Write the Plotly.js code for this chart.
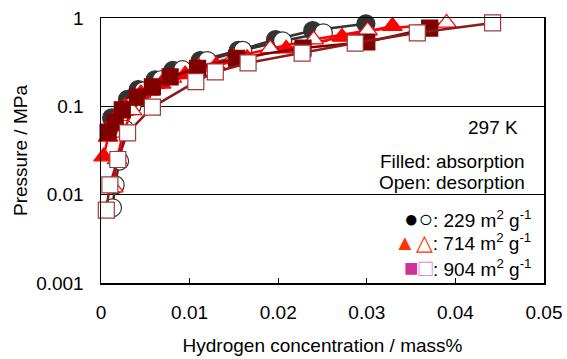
<!DOCTYPE html>
<html><head><meta charset="utf-8">
<script src="https://cdn.plot.ly/plotly-3.0.1.min.js"></script>
<style>html,body{margin:0;padding:0;background:#fff}#chart{width:567px;height:359px}</style>
</head><body><div id="chart"></div>
<script>
// 229 m2/g
const c229AbsX = [0.0012, 0.0030, 0.0042, 0.0061, 0.0081, 0.0112, 0.0155, 0.0197, 0.0239, 0.0299];
const c229AbsP = [0.074, 0.12, 0.155, 0.20, 0.255, 0.33, 0.43, 0.57, 0.72, 0.86];
const c229DesX = [0.0251, 0.0205, 0.0160, 0.0120, 0.0092, 0.0068, 0.0048, 0.0035, 0.0027, 0.0021, 0.0016, 0.0013];
const c229DesP = [0.68, 0.55, 0.43, 0.33, 0.26, 0.20, 0.15, 0.10, 0.055, 0.024, 0.0129, 0.0071];
// 714 m2/g
const c714AbsX = [0.0003, 0.0008, 0.0015, 0.0027, 0.0045, 0.0068, 0.0095, 0.0130, 0.0165, 0.0209, 0.0272, 0.0329];
const c714AbsP = [0.027, 0.045, 0.07, 0.10, 0.14, 0.18, 0.23, 0.29, 0.35, 0.45, 0.61, 0.81];
const c714DesX = [0.0390, 0.0301, 0.0240, 0.0191, 0.0150, 0.0110, 0.0080, 0.0055, 0.0035, 0.0025, 0.0018, 0.0014];
const c714DesP = [0.88, 0.72, 0.57, 0.45, 0.36, 0.28, 0.21, 0.15, 0.09, 0.05, 0.025, 0.012];
// 904 m2/g
const c904AbsX = [0.0008, 0.0016, 0.0024, 0.0041, 0.0058, 0.0078, 0.0109, 0.0153, 0.0228, 0.0300, 0.0371];
const c904AbsP = [0.051, 0.066, 0.091, 0.127, 0.166, 0.215, 0.27, 0.35, 0.457, 0.535, 0.77];
const c904DesX = [0.0442, 0.0357, 0.0287, 0.0227, 0.0166, 0.0129, 0.0107, 0.0058, 0.0030, 0.0019, 0.0010, 0.0006];
const c904DesP = [0.88, 0.68, 0.52, 0.40, 0.31, 0.245, 0.19, 0.098, 0.05, 0.025, 0.0129, 0.0067];

const xTicks = [0, 0.01, 0.02, 0.03, 0.04, 0.05];
const xTickText = ['0', '0.01', '0.02', '0.03', '0.04', '0.05'];
const yTicks = [0.001, 0.01, 0.1, 1];
const yTickText = ['0.001', '0.01', '0.1', '1'];

const FONT = 'Liberation Sans, Arial, sans-serif';
const FS = 19;

function tr(x, y, sym, size, fill, lineCol, mlineCol) {
  return {x: x, y: y, type: 'scatter', mode: 'lines+markers', cliponaxis: false,
    line: {color: lineCol, width: 2.5},
    marker: {symbol: sym, size: size, color: fill, line: {color: mlineCol, width: 1.2}},
    showlegend: false, hoverinfo: 'skip'};
}

const data = [
  tr(c229AbsX, c229AbsP, 'circle', 18, '#333333', '#333333', '#333333'),
  tr(c229DesX, c229DesP, 'circle', 18, '#ffffff', '#333333', '#333333'),
  tr(c714AbsX, c714AbsP, 'triangle-up', 17, '#ff0000', '#ff0000', '#ff0000'),
  tr(c714DesX, c714DesP, 'triangle-up', 17, '#ffffff', '#ff0000', '#ff0000'),
  tr(c904AbsX, c904AbsP, 'square', 16, '#800000', '#800000', '#800000'),
  tr(c904DesX, c904DesP, 'square', 16, '#ffffff', '#8b1a1a', '#a03a3a')
];

function ann(text, x, y) {
  return {text: text, xref: 'paper', yref: 'paper', x: x, y: y, xanchor: 'right', yanchor: 'middle',
    showarrow: false, font: {family: FONT, size: FS, color: '#000'}};
}
function sym(ch, col, sz) {
  return '<span style="color:' + col + ';font-size:' + sz + 'px">' + ch + '</span>';
}

const layout = {
  width: 567, height: 359,
  margin: {l: 101, r: 23, t: 18, b: 76},
  paper_bgcolor: '#fff', plot_bgcolor: '#fff',
  font: {family: FONT, size: FS, color: '#000'},
  xaxis: {
    range: [0, 0.05], tickvals: xTicks, ticktext: xTickText,
    ticks: 'inside', ticklen: 5, tickwidth: 1, tickcolor: '#000',
    showline: true, linecolor: '#000', linewidth: 1.5, mirror: true,
    showgrid: false, zeroline: false, ticklabelstandoff: 12,
    tickfont: {family: FONT, size: FS},
    title: {text: 'Hydrogen concentration / mass%', font: {family: FONT, size: FS}, standoff: 16}
  },
  yaxis: {
    type: 'log', range: [-3, 0], tickvals: yTicks, ticktext: yTickText,
    ticks: '', showline: true, linecolor: '#000', linewidth: 1.5, mirror: true,
    showgrid: true, gridcolor: '#000', gridwidth: 1, zeroline: false,
    ticklabelstandoff: 12,
    tickfont: {family: FONT, size: FS},
    title: {text: 'Pressure / MPa', font: {family: FONT, size: FS}, standoff: 3}
  },
  annotations: [
    ann('297 K', 0.946, 0.585),
    ann('Filled: absorption', 0.962, 0.457),
    ann('Open: desorption', 0.962, 0.381),
    ann(sym('●', '#000', 24) + sym('○', '#000', 24) + ': 229 m<sup>2</sup> g<sup>-1</sup>', 0.975, 0.245),
    ann(sym('▲', '#ff3300', 22) + sym('△', '#ff3300', 22) + ': 714 m<sup>2</sup> g<sup>-1</sup>', 0.975, 0.151),
    ann(sym('■', '#cc3399', 24) + sym('□', '#e888c8', 24) + ': 904 m<sup>2</sup> g<sup>-1</sup>', 0.975, 0.057)
  ]
};

Plotly.newPlot('chart', data, layout, {staticPlot: true, displayModeBar: false});
</script></body></html>
